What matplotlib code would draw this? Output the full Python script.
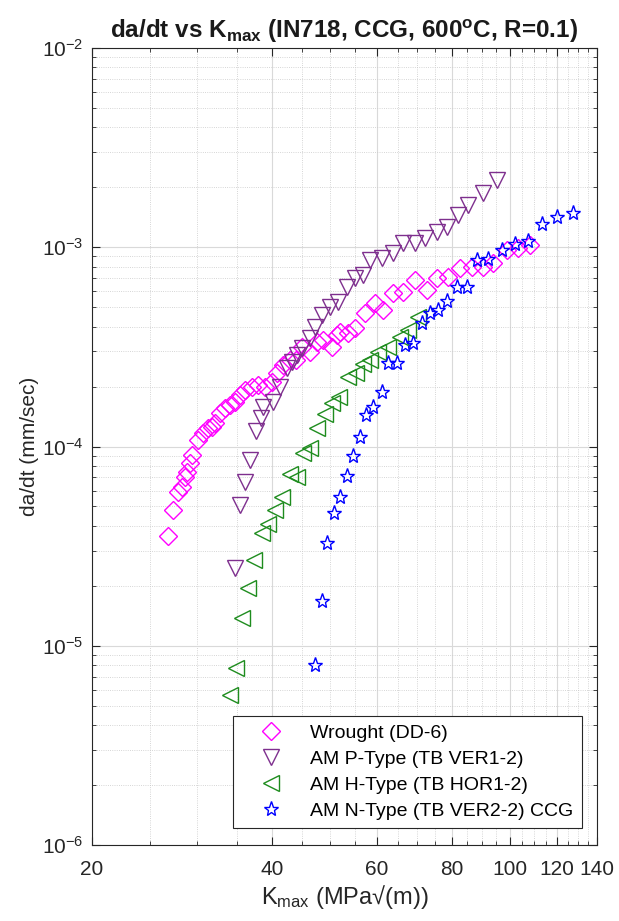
import matplotlib
matplotlib.use("Agg")
import matplotlib.pyplot as plt
from matplotlib.ticker import FixedLocator, NullFormatter, LogLocator, FixedFormatter

plt.rcParams['font.family'] = ['Liberation Sans', 'DejaVu Sans']
plt.rcParams['mathtext.fontset'] = 'custom'
plt.rcParams['mathtext.rm'] = 'Liberation Sans'
plt.rcParams['mathtext.it'] = 'Liberation Sans'
plt.rcParams['mathtext.bf'] = 'Liberation Sans:bold'

# Wrought (DD-6)
k_wr = [26.8, 27.3, 27.9, 28.3, 28.6, 28.8, 29.2, 29.4, 30.1, 30.7, 31.3, 31.8, 32.1, 32.7,
        33.4, 34.0, 34.7, 35.4, 36.1, 37.0, 37.9, 38.9, 40.0, 40.8, 41.7, 42.9, 43.9, 44.9,
        46.3, 47.6, 48.7, 50.4, 51.4, 52.0, 53.6, 55.1, 57.3, 59.5, 61.4, 63.8, 66.3, 69.4,
        72.7, 75.6, 78.8, 82.6, 86.5, 90.2, 93.8, 99.0, 103.3, 108.1]
r_wr = [3.57e-5, 4.82e-5, 5.93e-5, 6.28e-5, 7.05e-5, 7.47e-5, 8.29e-5, 9.09e-5, 1.08e-4,
        1.17e-4, 1.24e-4, 1.26e-4, 1.31e-4, 1.48e-4, 1.56e-4, 1.62e-4, 1.68e-4, 1.82e-4,
        1.92e-4, 1.99e-4, 2.04e-4, 1.99e-4, 2.11e-4, 2.34e-4, 2.57e-4, 2.72e-4, 2.72e-4,
        3.16e-4, 2.98e-4, 3.35e-4, 3.43e-4, 3.16e-4, 3.63e-4, 3.76e-4, 3.72e-4, 3.94e-4,
        4.68e-4, 5.25e-4, 4.84e-4, 5.90e-4, 5.97e-4, 6.85e-4, 6.10e-4, 7.01e-4, 7.09e-4,
        7.87e-4, 7.96e-4, 7.96e-4, 8.33e-4, 9.7e-4, 9.9e-4, 1.03e-3]

# AM P-Type (TB VER1-2)
k_p = [34.7, 35.4, 36.1, 36.8, 37.6, 38.4, 38.7, 40.2, 41.3, 42.4, 43.2, 44.1, 44.9, 46.3,
       47.2, 48.5, 50.0, 51.6, 53.4, 55.1, 56.8, 58.4, 61.1, 63.8, 66.3, 69.4, 72.2, 75.6,
       78.5, 81.9, 85.2, 90.2, 95.2]
r_p = [2.47e-5, 5.10e-5, 6.65e-5, 8.58e-5, 1.19e-4, 1.39e-4, 1.58e-4, 1.68e-4, 1.99e-4,
       2.48e-4, 2.66e-4, 2.88e-4, 3.12e-4, 3.51e-4, 3.98e-4, 4.57e-4, 5.02e-4, 5.31e-4,
       6.32e-4, 7.01e-4, 7.26e-4, 8.63e-4, 8.83e-4, 9.35e-4, 1.05e-3, 1.05e-3, 1.11e-3,
       1.19e-3, 1.26e-3, 1.45e-3, 1.63e-3, 1.87e-3, 2.17e-3]

# AM H-Type (TB HOR1-2)
k_h = [34.0, 34.8, 35.6, 36.5, 37.3, 38.5, 39.4, 40.5, 41.6, 42.9, 44.1, 45.1, 46.3, 47.6,
       49.1, 50.4, 51.8, 53.6, 55.3, 56.8, 58.4, 60.2, 62.6, 65.5, 67.6, 70.2]
r_h = [5.63e-6, 7.69e-6, 1.38e-5, 1.96e-5, 2.70e-5, 3.69e-5, 4.10e-5, 4.82e-5, 5.60e-5,
       7.30e-5, 7.05e-5, 9.30e-5, 9.85e-5, 1.24e-4, 1.46e-4, 1.66e-4, 1.78e-4, 2.24e-4,
       2.34e-4, 2.60e-4, 2.72e-4, 2.98e-4, 3.16e-4, 3.55e-4, 3.85e-4, 4.47e-4]

# AM N-Type (TB VER2-2) CCG
k_n = [47.2, 48.5, 49.5, 50.8, 52.0, 53.4, 54.7, 56.2, 57.5, 59.1, 61.1, 62.6, 64.8, 66.8,
       68.9, 71.3, 73.6, 75.9, 78.5, 81.6, 84.8, 88.2, 92.0, 97.1, 102.1, 107.3, 113.3,
       120.0, 127.6]
r_n = [8.05e-6, 1.67e-5, 3.29e-5, 4.65e-5, 5.60e-5, 7.13e-5, 8.98e-5, 1.12e-4, 1.44e-4,
       1.58e-4, 1.88e-4, 2.63e-4, 2.63e-4, 3.23e-4, 3.31e-4, 4.17e-4, 4.68e-4, 4.84e-4,
       5.37e-4, 6.32e-4, 6.32e-4, 8.63e-4, 8.7e-4, 9.7e-4, 1.04e-3, 1.07e-3, 1.31e-3,
       1.42e-3, 1.48e-3]

x_ticks = [20, 40, 60, 80, 100, 120, 140]
x_minor = [v for v in range(25, 140, 5) if v not in x_ticks]

fig = plt.figure(figsize=(6.19, 9.21), dpi=100)
ax = fig.add_axes([0.1486, 0.0825, 0.8158, 0.8654])

ax.loglog(k_wr, r_wr, 'D', ms=9, mfc='none', mec='#FF00FF', mew=1.0, ls='none',
          label='Wrought (DD-6)')
ax.loglog(k_p, r_p, 'v', ms=12, mfc='none', mec='#7E2F8E', mew=1.0, ls='none',
          label='AM P-Type (TB VER1-2)')
ax.loglog(k_h, r_h, '<', ms=12, mfc='none', mec='#1E8C1E', mew=1.0, ls='none',
          label='AM H-Type (TB HOR1-2)')
ax.loglog(k_n, r_n, '*', ms=11, mfc='none', mec='#0000FF', mew=1.0, ls='none',
          label='AM N-Type (TB VER2-2) CCG')

ax.set_xlim(20, 140)
ax.set_ylim(1e-6, 1e-2)
ax.xaxis.set_major_locator(FixedLocator(x_ticks))
ax.xaxis.set_major_formatter(FixedFormatter([str(v) for v in x_ticks]))
ax.xaxis.set_minor_locator(FixedLocator(x_minor))
ax.xaxis.set_minor_formatter(NullFormatter())
ax.yaxis.set_major_locator(LogLocator(base=10, numticks=10))
ax.yaxis.set_minor_locator(LogLocator(base=10, subs=range(2, 10), numticks=20))
ax.yaxis.set_minor_formatter(NullFormatter())

ax.grid(True, which='major', color='#d9d9d9', lw=0.8, ls='-')
ax.grid(True, which='minor', color='#c8c8c8', lw=0.6, ls=':')
ax.set_axisbelow(True)
ax.tick_params(which='both', direction='in', top=True, right=True, colors='#262626',
               labelsize=15, labelcolor='#262626')
ax.tick_params(which='major', length=6)
ax.tick_params(which='minor', length=3)
ax.tick_params(axis='x', which='major', pad=11)
ax.tick_params(axis='y', which='major', pad=6)
for s in ax.spines.values():
    s.set_color('#262626')
    s.set_linewidth(0.8)

ax.set_title('da/dt vs K$_{\\mathbf{max}}$ (IN718, CCG, 600$^{\\mathbf{o}}$C, R=0.1)',
             fontsize=17.5, fontweight='bold', color='#1a1a1a', pad=7)
ax.set_xlabel('K$_{\\mathrm{max}}$ (MPa\u221a(m))', fontsize=17, color='#262626',
              labelpad=3)
ax.set_ylabel('da/dt (mm/sec)', fontsize=15, color='#262626', labelpad=2)

leg = ax.legend(loc='lower right', bbox_to_anchor=(0.97, 0.021), borderaxespad=0,
                fontsize=14, fancybox=False, edgecolor='#262626', framealpha=1,
                handlelength=3.0, handletextpad=0.5, labelspacing=0.42, borderpad=0.45)
leg.get_frame().set_linewidth(0.8)

fig.savefig('out.png', dpi=100)
